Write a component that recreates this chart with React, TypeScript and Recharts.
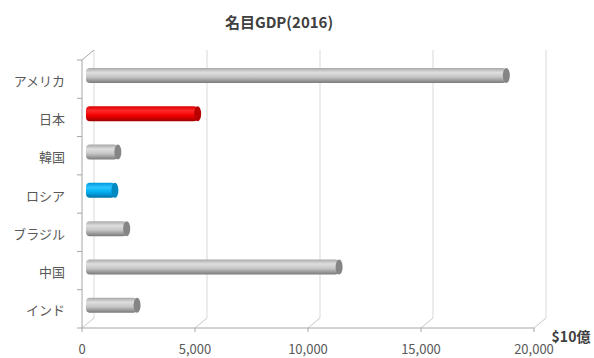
import { BarChart, Bar, XAxis, YAxis, CartesianGrid } from "recharts";

const categories = ["アメリカ", "日本", "韓国", "ロシア", "ブラジル", "中国", "インド"];
const gdp = [18600, 4940, 1410, 1280, 1800, 11200, 2260];
const xTicks = [0, 5000, 10000, 15000, 20000];
const unitLabel = "$10億";
const title = "名目GDP(2016)";

const data = categories.map((name, i) => ({ name, gdp: gdp[i] }));

// plot box (front face) and the depth offset of the back wall
const W = 594;
const H = 358;
const LEFT = 82;
const TOP = 60;
const RIGHT = 60;
const BOTTOM = 30;
const PLOT_H = H - TOP - BOTTOM;
const DEPTH_X = 12;
const DEPTH_Y = -10;
const BAR_H = 15;

const palettes: Record<string, string[]> = {
  gray: ["#a8a8a8", "#dedede", "#c6c6c6", "#7a7a7a", "#858585"],
  red: ["#d80000", "#ff2a2a", "#f40000", "#a00000", "#b80000"],
  blue: ["#0098d8", "#2ec4ff", "#00b0f0", "#0070a8", "#0088c0"],
};
const barColor: Record<string, string> = { 日本: "red", ロシア: "blue" };

const axisGray = "#a6a6a6";
const textGray = "#595959";
const font = '"Noto Sans CJK JP", "Noto Sans", sans-serif';

function CylinderBar(props: any) {
  const { x, y, width, height, payload } = props;
  const key = barColor[payload.name] ?? "gray";
  const c = palettes[key];
  const bx = x + DEPTH_X / 2 - 2;
  const by = y + height / 2 + DEPTH_Y / 2 - BAR_H / 2 + 1;
  const w = Math.max(width, 0);
  return (
    <g>
      <rect x={bx} y={by} width={w} height={BAR_H} rx={4} fill={`url(#cyl-${key})`} />
      <ellipse cx={bx + w} cy={by + BAR_H / 2} rx={3.5} ry={BAR_H / 2} fill={c[4]} />
    </g>
  );
}

function BackGridLine(props: any) {
  const { x1, y1, y2, index } = props;
  const bx = x1 + DEPTH_X;
  return (
    <g key={`grid-${index}`}>
      <line x1={bx} y1={y1 + DEPTH_Y} x2={bx} y2={y2 + DEPTH_Y} stroke="#d9d9d9" strokeWidth={1} />
      <line x1={x1} y1={y2} x2={bx} y2={y2 + DEPTH_Y} stroke="#c8c8c8" strokeWidth={1} />
      {index === 0 && (
        <line x1={x1} y1={y1} x2={bx} y2={y1 + DEPTH_Y} stroke={axisGray} strokeWidth={1} />
      )}
    </g>
  );
}

function CategoryTick(props: any) {
  const { y, payload, index } = props;
  const band = PLOT_H / categories.length;
  const last = index === categories.length - 1;
  return (
    <g>
      <line x1={LEFT - 5} y1={y - band / 2} x2={LEFT} y2={y - band / 2} stroke={axisGray} />
      {last && <line x1={LEFT - 5} y1={y + band / 2} x2={LEFT} y2={y + band / 2} stroke={axisGray} />}
      <text
        x={LEFT - 17}
        y={y + 1}
        textAnchor="end"
        dominantBaseline="central"
        fontSize={13}
        fontFamily={font}
        fill={textGray}
      >
        {payload.value}
      </text>
    </g>
  );
}

function UnitLabel(props: any) {
  const { viewBox } = props;
  return (
    <text
      x={viewBox.x + viewBox.width + 37}
      y={viewBox.y + 8}
      textAnchor="middle"
      dominantBaseline="central"
      fontSize={14}
      fontWeight="bold"
      fontFamily={font}
      fill="#404040"
    >
      {unitLabel}
    </text>
  );
}

export default function App() {
  return (
    <div style={{ position: "absolute", left: 0, top: 0, width: W, height: H, background: "#fff" }}>
      <div
        style={{
          position: "absolute",
          left: 279,
          top: 11,
          transform: "translateX(-50%)",
          fontFamily: font,
          fontWeight: "bold",
          fontSize: 15,
          color: "#404040",
          whiteSpace: "nowrap",
        }}
      >
        {title}
      </div>
      <BarChart
        width={W}
        height={H}
        data={data}
        layout="vertical"
        margin={{ top: TOP, right: RIGHT, bottom: 0, left: 0 }}
        barSize={BAR_H}
      >
        <defs>
          {Object.entries(palettes).map(([k, c]) => (
            <linearGradient key={k} id={`cyl-${k}`} x1="0" y1="0" x2="0" y2="1">
              <stop offset="0%" stopColor={c[0]} />
              <stop offset="30%" stopColor={c[1]} />
              <stop offset="60%" stopColor={c[2]} />
              <stop offset="100%" stopColor={c[3]} />
            </linearGradient>
          ))}
        </defs>
        <CartesianGrid horizontal={false} vertical={BackGridLine} />
        <XAxis
          type="number"
          domain={[0, 20000]}
          ticks={xTicks}
          height={BOTTOM}
          tickFormatter={(v: number) => v.toLocaleString("en-US")}
          axisLine={{ stroke: axisGray }}
          tickLine={{ stroke: axisGray }}
          tickSize={4}
          tickMargin={13}
          tick={{ fontSize: 13, fontFamily: font, fill: textGray }}
          label={<UnitLabel />}
        />
        <YAxis
          type="category"
          dataKey="name"
          width={LEFT}
          axisLine={{ stroke: axisGray }}
          tickLine={false}
          tick={<CategoryTick />}
        />
        <Bar dataKey="gdp" shape={<CylinderBar />} isAnimationActive={false} />
      </BarChart>
    </div>
  );
}
